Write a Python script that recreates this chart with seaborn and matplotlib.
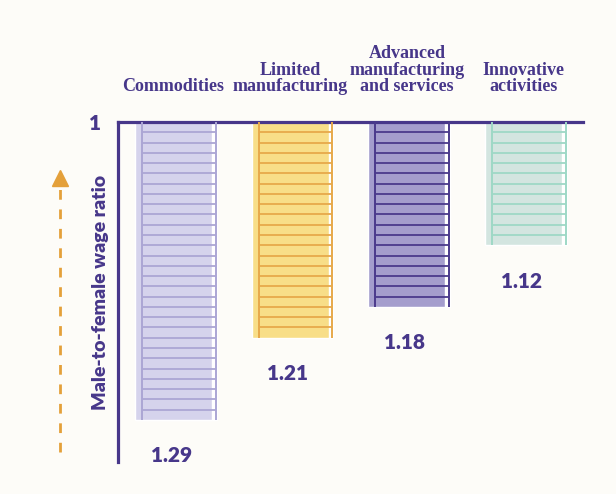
import numpy as np
import pandas as pd
import seaborn as sns
import matplotlib.pyplot as plt
from matplotlib.lines import Line2D

# Data
categories = ['Commodities', 'Limited\nmanufacturing',
              'Advanced\nmanufacturing\nand services', 'Innovative\nactivities']
ratios = [1.29, 1.21, 1.18, 1.12]
value_labels = ['1.29', '1.21', '1.18', '1.12']
fill_colors = ['#D5D3EC', '#F8DE88', '#A49DCD', '#D3E5E0']
rung_colors = ['#ABA6D4', '#E7A94B', '#4B3A8C', '#9ED8C6']

df = pd.DataFrame({'sector': categories, 'gap': np.array(ratios) - 1})

bg = '#FDFCF8'
ink = '#47378A'

sns.set_style('white')
plt.rcParams['font.family'] = ['Lato', 'DejaVu Sans']

W, H = 616, 494
fig = plt.figure(figsize=(W / 100, H / 100), dpi=100, facecolor=bg)
ax = fig.add_axes([118 / W, 1 - 462 / H, (583 - 118) / W, (462 - 122) / H])
ax.set_facecolor(bg)

# white backing behind each ladder
ax.bar(np.arange(len(categories)) - 0.33, df['gap'], width=0.70, align='edge',
       color='white', zorder=1)

sns.barplot(data=df, x='sector', y='gap', hue='sector', palette=fill_colors,
            saturation=1, width=0.66, legend=False, ax=ax, zorder=2)

# ladder rails and rungs
for i, g in enumerate(df['gap']):
    left, right = i - 0.27, i + 0.36
    ax.vlines([left, right], 0, g, color=rung_colors[i], lw=1.4, zorder=3)
    rungs = np.arange(0.01, g - 0.005, 0.01)
    ax.hlines(rungs, left, right, color=rung_colors[i], lw=1.3, zorder=3)
    ax.text(i - 0.02, g + 0.035, value_labels[i], ha='center', va='center',
            fontsize=15, fontweight='heavy', color=ink, clip_on=False)
    ax.text(i, -0.026, categories[i], ha='center', va='bottom',
            fontsize=13, fontweight='bold', family='Liberation Serif',
            color=ink, linespacing=0.98, clip_on=False)

ax.set_xlim(-0.476, 3.51)
ax.set_ylim(0.331, 0)
ax.set_xticks([])
ax.set_yticks([0])
ax.set_yticklabels(['1'], fontweight='heavy')
ax.tick_params(axis='y', length=0, pad=12, labelsize=15, labelcolor=ink)
ax.set_xlabel('')
ax.set_ylabel('')

for side in ['right', 'bottom']:
    ax.spines[side].set_visible(False)
for side in ['top', 'left']:
    ax.spines[side].set_color(ink)
    ax.spines[side].set_linewidth(2.3)

ax.text(-0.038, 0.5, 'Male-to-female wage ratio', rotation=90,
        transform=ax.transAxes, ha='center', va='center',
        fontsize=14, fontweight='heavy', color=ink)

# dashed orange arrow on the left
orange = '#E4A03A'
fig.add_artist(Line2D([60 / W, 60 / W], [1 - 452 / H, 1 - 182 / H],
                      transform=fig.transFigure, color=orange, lw=2,
                      dashes=(3.5, 3.5)))
fig.add_artist(Line2D([60 / W], [1 - 178 / H], transform=fig.transFigure,
                      marker='^', markersize=11, color=orange, lw=0))

fig.savefig('out.png', dpi=100, facecolor=bg)
